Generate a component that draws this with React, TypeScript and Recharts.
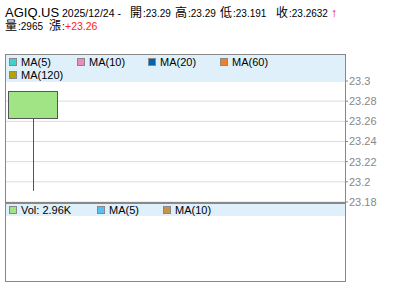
import React from "react";
import {
    ComposedChart,
    Bar,
    XAxis,
    YAxis,
    CartesianGrid,
} from "recharts";

// one real candle, the rest are empty slots of the time axis
const dates = ["2025/12/24", "", "", "", "", ""];
const opens = [23.29, null, null, null, null, null];
const highs = [23.29, null, null, null, null, null];
const lows = [23.191, null, null, null, null, null];
const closes = [23.2632, null, null, null, null, null];
const volumes = [2965, null, null, null, null, null];

const priceTicks = [23.18, 23.2, 23.22, 23.24, 23.26, 23.28, 23.3];

const priceLegend = [
    { name: "MA(5)", color: "#40d0d0" },
    { name: "MA(10)", color: "#f088b8" },
    { name: "MA(20)", color: "#0064b4" },
    { name: "MA(60)", color: "#f08028" },
    { name: "MA(120)", color: "#b4a400" },
];

const volLegend = [
    { name: "Vol: 2.96K", color: "#a0e486" },
    { name: "MA(5)", color: "#58c0f0" },
    { name: "MA(10)", color: "#c49448" },
];

const data = dates.map((d, i) => ({
    date: d,
    open: opens[i],
    high: highs[i],
    low: lows[i],
    close: closes[i],
    volume: volumes[i],
    range: lows[i] != null ? [lows[i], highs[i]] : null,
}));

const LATIN = '"Liberation Sans", Arial, "Noto Sans CJK TC", sans-serif';
const CJK = '"Noto Sans CJK TC", sans-serif';
const BORDER = "#888";
const BAND = "#dff0fa";

const Candle = (props: any) => {
    const { x, y, width, height, payload } = props;
    if (payload.open == null) return null;
    const top = Math.min(y, y + height);
    const bottom = Math.max(y, y + height);
    const span = payload.high - payload.low;
    const toY = (v: number) =>
        span === 0 ? top : top + ((payload.high - v) / span) * (bottom - top);
    const bodyTop = toY(Math.max(payload.open, payload.close));
    const bodyBottom = toY(Math.min(payload.open, payload.close));
    const cx = Math.round(x + width / 2) + 0.5;
    return (
        <g>
            <line x1={cx} x2={cx} y1={top} y2={bottom} stroke="#555" strokeWidth={1} />
            <rect
                x={Math.round(x) + 0.5}
                y={Math.round(bodyTop) + 0.5}
                width={Math.round(width) - 1}
                height={Math.max(Math.round(bodyBottom - bodyTop), 1)}
                fill="#a0e486"
                stroke="#555"
                strokeWidth={1}
            />
        </g>
    );
};

const LegendRow = ({ items, gap }: { items: { name: string; color: string }[]; gap: number[] }) => (
    <>
        {items.map((it, i) => (
            <div
                key={it.name}
                style={{
                    position: "absolute",
                    left: gap[i],
                    display: "flex",
                    alignItems: "center",
                    whiteSpace: "nowrap",
                }}
            >
                <span
                    style={{
                        width: 6,
                        height: 6,
                        background: it.color,
                        border: "1px solid #888",
                        marginRight: 4,
                        display: "inline-block",
                    }}
                />
                <span style={{ fontSize: 11, color: "#000" }}>{it.name}</span>
            </div>
        ))}
    </>
);

const Header = () => (
    <svg width={400} height={40} style={{ position: "absolute", left: 0, top: 0 }}>
        <g fontFamily={LATIN} fill="#000">
            <text x={5} y={17} fontSize={13}>AGIQ.US</text>
            <text x={62} y={17} fontSize={10.5}>2025/12/24 -</text>
            <text x={130} y={17} fontSize={12} fontFamily={CJK}>開</text>
            <text x={143} y={17} fontSize={10}>:23.29</text>
            <text x={175} y={17} fontSize={12} fontFamily={CJK}>高</text>
            <text x={188} y={17} fontSize={10}>:23.29</text>
            <text x={220} y={17} fontSize={12} fontFamily={CJK}>低</text>
            <text x={233} y={17} fontSize={10}>:23.191</text>
            <text x={276} y={17} fontSize={12} fontFamily={CJK}>收</text>
            <text x={289} y={17} fontSize={10}>:23.2632</text>
            <text x={331} y={17} fontSize={12} fontWeight="bold" fill="#e00">↑</text>
            <text x={5} y={30} fontSize={12} fontFamily={CJK}>量</text>
            <text x={18} y={30} fontSize={10}>:2965</text>
            <text x={49} y={30} fontSize={12} fontFamily={CJK}>漲</text>
            <text x={62} y={30} fontSize={10}>:</text>
            <text x={65} y={30} fontSize={10.5} fill="#f22">+23.26</text>
        </g>
    </svg>
);

export default function App() {
    return (
        <div
            style={{
                position: "absolute",
                left: 0,
                top: 0,
                width: 400,
                height: 301,
                background: "#fff",
                fontFamily: LATIN,
                overflow: "hidden",
            }}
        >
            <Header />

            {/* price panel */}
            <div style={{ position: "absolute", left: 0, top: 54 }}>
                <ComposedChart
                    width={400}
                    height={158}
                    data={data}
                    margin={{ top: 27, right: 0, left: 5, bottom: 10 }}
                >
                    <CartesianGrid vertical={false} stroke="#dcdcdc" />
                    <XAxis dataKey="date" hide />
                    <YAxis
                        orientation="right"
                        domain={[23.18, 23.3]}
                        ticks={priceTicks}
                        width={55}
                        axisLine={false}
                        tickSize={3}
                        tickMargin={1}
                        tickLine={{ stroke: BORDER }}
                        tick={{ fill: "#888", fontSize: 11 }}
                        interval={0}
                    />
                    <Bar dataKey="range" barSize={50} shape={<Candle />} isAnimationActive={false} />
                </ComposedChart>
            </div>
            <div
                style={{
                    position: "absolute",
                    left: 6,
                    top: 55,
                    width: 339,
                    height: 26,
                    background: BAND,
                }}
            >
                <div style={{ position: "absolute", top: 1, left: 0, right: 0, height: 12 }}>
                    <LegendRow items={priceLegend.slice(0, 4)} gap={[3, 71, 142, 214]} />
                </div>
                <div style={{ position: "absolute", top: 14, left: 0, right: 0, height: 12 }}>
                    <LegendRow items={priceLegend.slice(4)} gap={[3]} />
                </div>
            </div>
            <div
                style={{
                    position: "absolute",
                    left: 5,
                    top: 54,
                    width: 339,
                    height: 147,
                    border: `1px solid ${BORDER}`,
                    borderBottom: `2px solid ${BORDER}`,
                    pointerEvents: "none",
                }}
            />

            {/* volume panel */}
            <div
                style={{
                    position: "absolute",
                    left: 6,
                    top: 204,
                    width: 339,
                    height: 12,
                    background: BAND,
                }}
            >
                <LegendRow items={volLegend} gap={[3, 91, 157]} />
            </div>
            <div
                style={{
                    position: "absolute",
                    left: 5,
                    top: 203,
                    width: 339,
                    height: 78,
                    border: `1px solid ${BORDER}`,
                    borderTop: "none",
                    pointerEvents: "none",
                }}
            />
        </div>
    );
}
